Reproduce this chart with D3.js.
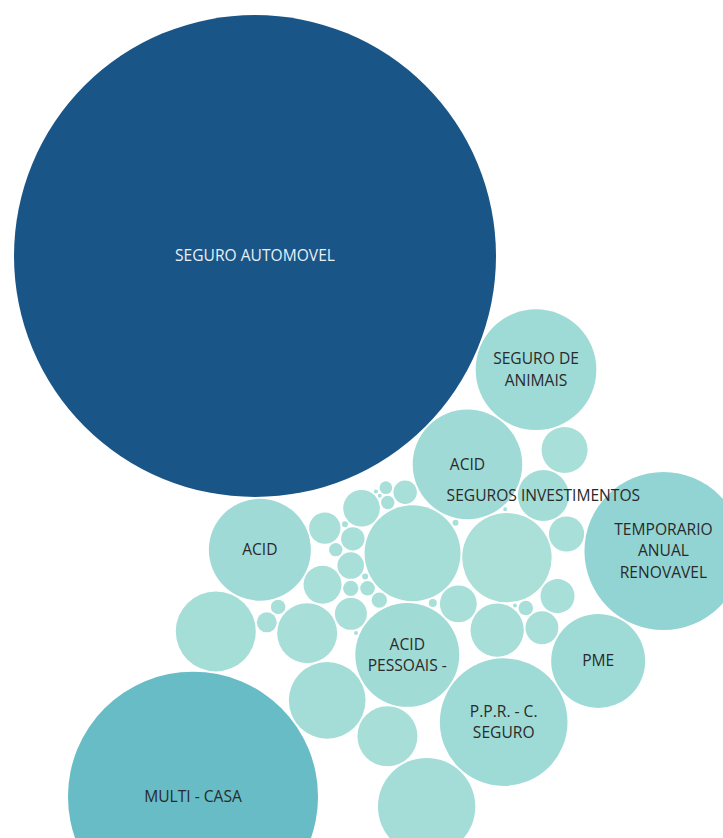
<!DOCTYPE html>
<html>
<head>
<meta charset="utf-8">
<script src="https://cdn.jsdelivr.net/npm/d3@7"></script>
<style>
  html, body { margin: 0; padding: 0; background: #ffffff; }
  svg { display: block; }
</style>
</head>
<body>
<svg id="chart" width="723" height="838"></svg>
<script>
// Product lines in packing order (label only where one is shown)
const labels = [
  "", "", "", "", "", "", "", "", "", "",
  "ACID\nPESSOAIS -", "ACID", "", "", "", "", "", "", "", "",
  "", "", "", "", "ACID", "", "SEGURO AUTOMOVEL", "", "P.P.R. - C.\nSEGURO", "",
  "", "", "", "SEGUROS INVESTIMENTOS", "", "", "", "SEGURO DE\nANIMAIS", "", "",
  "", "", "", "", "MULTI - CASA", "", "PME", "TEMPORARIO\nANUAL\nRENOVAVEL"
];
// Size measure (bubble area)
const premiums = [
  230, 13.7, 33.5, 17.7, 0.9, 4.5, 5.3, 13.7, 5.9, 5.9,
  270, 300, 4.5, 0.9, 0.4, 25.6, 4, 1.6, 0.9, 34,
  36, 0.4, 200, 24.6, 260, 71, 5808, 90, 407, 0.4,
  147, 0.4, 5.3, 65, 0.4, 5.3, 27, 364, 10, 29,
  31, 160, 53, 90, 1563, 237, 221, 624
];
// Colour measure
const shares = [
  0.04, 0.03, 0.03, 0.03, 0.03, 0.03, 0.03, 0.03, 0.03, 0.03,
  0.055, 0.06, 0.03, 0.03, 0.03, 0.03, 0.03, 0.03, 0.03, 0.03,
  0.03, 0.03, 0.022, 0.03, 0.06, 0.035, 1.0, 0.035, 0.062, 0.03,
  0.045, 0.03, 0.03, 0.045, 0.03, 0.03, 0.03, 0.062, 0.03, 0.03,
  0.03, 0.04, 0.03, 0.035, 0.30, 0.045, 0.058, 0.10
];

const margin = { left: 14, top: 15 };
const clusterBearing = 64;    // degrees: direction from the lead bubble to the rest
const gap = 0.9;

const rScale = d3.scaleSqrt().domain([0, d3.max(premiums)]).range([0, 241]);
const color = d3.scaleLinear()
  .domain([0, 0.1, 0.3, 1])
  .range(["#b2e4da", "#92d4d3", "#67bcc6", "#1a5587"])
  .interpolate(d3.interpolateRgb)
  .clamp(true);

const nodes = premiums.map((v, i) => ({
  label: labels[i], value: v, share: shares[i], r: rScale(v) + gap, rr: rScale(v)
}));

d3.packSiblings(nodes);

// orient the pack around its lead (largest) bubble
const lead = nodes[d3.maxIndex(nodes, d => d.value)];
const others = nodes.filter(n => n !== lead);
const cur = Math.atan2(d3.mean(others, n => n.y) - lead.y, d3.mean(others, n => n.x) - lead.x);
const th = clusterBearing * Math.PI / 180 - cur;
const ox = margin.left + lead.rr, oy = margin.top + lead.rr;
const lx = lead.x, ly = lead.y;
nodes.forEach(n => {
  const dx = n.x - lx, dy = n.y - ly;
  n.px = ox + dx * Math.cos(th) - dy * Math.sin(th);
  n.py = oy + dx * Math.sin(th) + dy * Math.cos(th);
});

const svg = d3.select("#chart");

// bubbles
svg.append("g").selectAll("circle")
  .data(nodes)
  .join("circle")
  .attr("cx", d => d.px)
  .attr("cy", d => d.py)
  .attr("r", d => d.rr)
  .attr("fill", d => color(d.share));

// labels drawn above every bubble
const lineH = 21.5;
svg.append("g").selectAll("text")
  .data(nodes.filter(d => d.label))
  .join("text")
  .attr("transform", d => `translate(${d.px},${d.py})`)
  .attr("text-anchor", "middle")
  .attr("font-family", "'Open Sans', 'Noto Sans', sans-serif")
  .attr("font-size", 15.6)
  .attr("fill", d => d.share > 0.5 ? "#e8eff6" : "#2a2a2a")
  .each(function(d) {
    const lines = d.label.split("\n");
    const t = d3.select(this);
    lines.forEach((ln, i) => {
      t.append("tspan")
        .attr("x", 0)
        .attr("y", (i - (lines.length - 1) / 2) * lineH)
        .attr("dy", "0.35em")
        .text(ln);
    });
  });
</script>
</body>
</html>
